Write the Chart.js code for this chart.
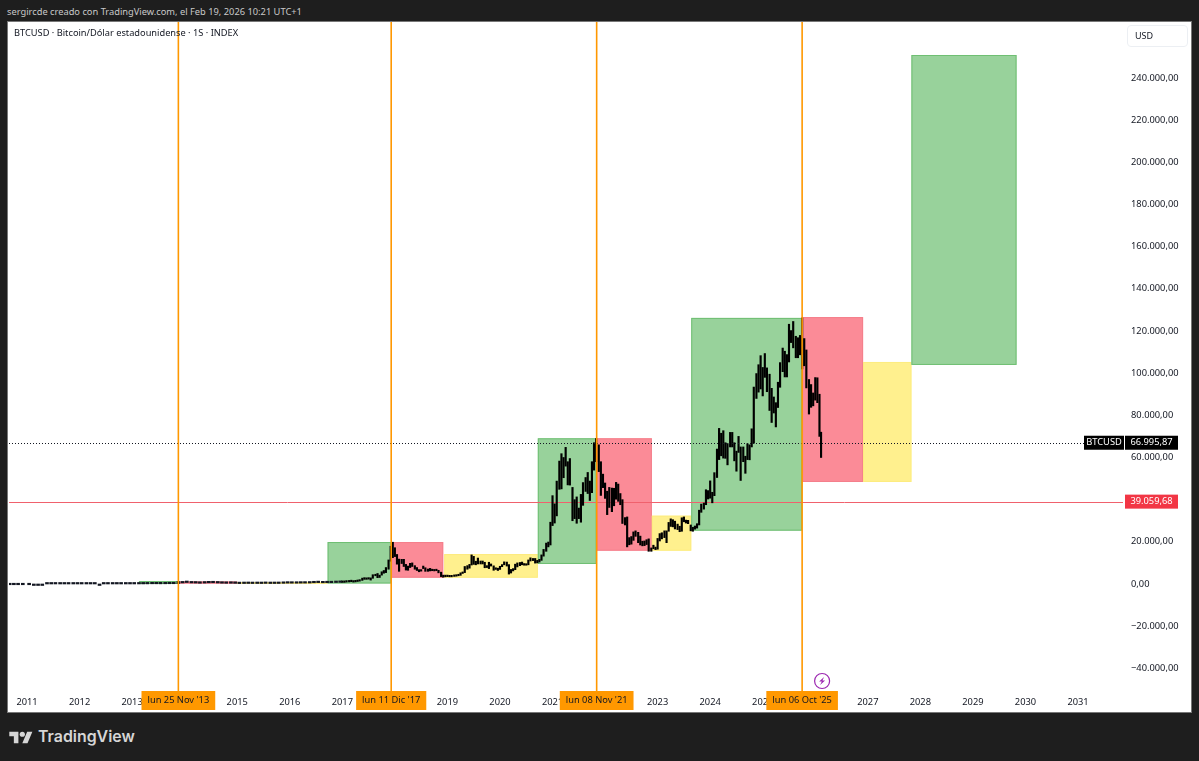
<!DOCTYPE html>
<html lang="es">
<head>
<meta charset="utf-8">
<title>BTCUSD</title>
<script src="https://cdn.jsdelivr.net/npm/chart.js@4"></script>
<style>
  html, body { margin: 0; padding: 0; width: 1199px; height: 761px; overflow: hidden; background: #1e1e1e; font-family: "Noto Sans", sans-serif; }
  #credit { position: absolute; left: 7px; top: 5px; font-size: 9.3px; line-height: 14px; color: #c9c9c9; white-space: nowrap; }
  #panel { position: absolute; left: 8px; top: 22px; width: 1183px; height: 690px; background: #fff; box-shadow: 0 0 0 1px #777; }
  #chart { position: absolute; left: 9px; top: 22px; }
  #title { position: absolute; left: 14px; top: 26px; font-size: 9.25px; line-height: 14px; color: #131722; white-space: nowrap; }
  #usd { position: absolute; left: 1127px; top: 25px; width: 59px; height: 20px; border: 1px solid #eceff3; border-radius: 4px; font-size: 9px; line-height: 20px; color: #131722; text-indent: 7px; box-sizing: content-box; }
  #logo { position: absolute; left: 9px; top: 731px; }
  #brand { position: absolute; left: 38px; top: 726px; font-family: Inter, sans-serif; font-weight: 600; font-size: 15.9px; line-height: 22px; color: #d6d6d6; }
</style>
</head>
<body>
<div id="credit">sergircde creado con TradingView.com, el Feb 19, 2026 10:21 UTC+1</div>
<div id="panel"></div>
<canvas id="chart" width="1182" height="690"></canvas>
<div id="title">BTCUSD · Bitcoin/Dólar estadounidense · 1S · INDEX</div>
<div id="usd">USD</div>
<svg id="logo" width="24" height="13" viewBox="0 3 36 20"><path fill="#d6d6d6" d="M14 22H7V11H0V4h14v18zM28 22h-8l7.5-18h8L28 22z"/><circle fill="#d6d6d6" cx="20" cy="8" r="4"/></svg>
<div id="brand">TradingView</div>

<script>
// === Datos ===
const yearTicks = [2011, 2012, 2013, 2014, 2015, 2016, 2017, 2018, 2019, 2020, 2021, 2022, 2023, 2024, 2025, 2026, 2027, 2028, 2029, 2030, 2031];
const priceTicks = [-40000, -20000, 0, 20000, 40000, 60000, 80000, 100000, 120000, 140000, 160000, 180000, 200000, 220000, 240000];

// fecha en años decimales, mínimo y máximo de cada tramo
const priceDates = [
  2010.67, 2010.75, 2010.83, 2010.92,
  2011.04, 2011.13, 2011.21, 2011.29, 2011.38, 2011.46, 2011.54, 2011.63, 2011.71, 2011.79, 2011.88, 2011.96,
  2012.04, 2012.13, 2012.21, 2012.29, 2012.38, 2012.46, 2012.54, 2012.63, 2012.71, 2012.79, 2012.88, 2012.96,
  2013.04, 2013.13, 2013.21, 2013.29, 2013.38, 2013.46, 2013.54, 2013.63, 2013.71, 2013.79, 2013.88, 2013.96,
  2014.04, 2014.13, 2014.21, 2014.29, 2014.38, 2014.46, 2014.54, 2014.63, 2014.71, 2014.79, 2014.88, 2014.96,
  2015.04, 2015.13, 2015.21, 2015.29, 2015.38, 2015.46, 2015.54, 2015.63, 2015.71, 2015.79, 2015.88, 2015.96,
  2016.04, 2016.13, 2016.21, 2016.29, 2016.38, 2016.46, 2016.54, 2016.63, 2016.71, 2016.79, 2016.88, 2016.96,
  2017.00, 2017.04, 2017.08, 2017.13, 2017.17, 2017.21, 2017.25, 2017.29, 2017.33, 2017.38, 2017.42, 2017.46, 2017.50, 2017.54, 2017.58, 2017.63, 2017.67, 2017.71, 2017.75, 2017.79, 2017.83, 2017.88, 2017.92, 2017.96,
  2018.00, 2018.04, 2018.08, 2018.13, 2018.17, 2018.21, 2018.25, 2018.29, 2018.33, 2018.38, 2018.42, 2018.46, 2018.50, 2018.54, 2018.58, 2018.63, 2018.67, 2018.71, 2018.75, 2018.79, 2018.83, 2018.88, 2018.92, 2018.96,
  2019.00, 2019.04, 2019.08, 2019.13, 2019.17, 2019.21, 2019.25, 2019.29, 2019.33, 2019.38, 2019.42, 2019.46, 2019.50, 2019.54, 2019.58, 2019.63, 2019.67, 2019.71, 2019.75, 2019.79, 2019.83, 2019.88, 2019.92, 2019.96,
  2020.00, 2020.04, 2020.08, 2020.13, 2020.17, 2020.21, 2020.25, 2020.29, 2020.33, 2020.38, 2020.42, 2020.46, 2020.50, 2020.54, 2020.58, 2020.63, 2020.67, 2020.71, 2020.75, 2020.79, 2020.83, 2020.88, 2020.92, 2020.96,
  2021.00, 2021.04, 2021.08, 2021.13, 2021.17, 2021.21, 2021.25, 2021.29, 2021.33, 2021.38, 2021.42, 2021.46, 2021.50, 2021.54, 2021.58, 2021.63, 2021.67, 2021.71, 2021.75, 2021.79, 2021.83, 2021.88, 2021.92, 2021.96,
  2022.00, 2022.04, 2022.08, 2022.13, 2022.17, 2022.21, 2022.25, 2022.29, 2022.33, 2022.38, 2022.42, 2022.46, 2022.50, 2022.54, 2022.58, 2022.63, 2022.67, 2022.71, 2022.75, 2022.79, 2022.83, 2022.88, 2022.92, 2022.96,
  2023.00, 2023.04, 2023.08, 2023.13, 2023.17, 2023.21, 2023.25, 2023.29, 2023.33, 2023.38, 2023.42, 2023.46, 2023.50, 2023.54, 2023.58, 2023.63, 2023.67, 2023.71, 2023.75, 2023.79, 2023.83, 2023.88, 2023.92, 2023.96,
  2024.00, 2024.04, 2024.08, 2024.13, 2024.17, 2024.21, 2024.25, 2024.29, 2024.33, 2024.38, 2024.42, 2024.46, 2024.50, 2024.54, 2024.58, 2024.63, 2024.67, 2024.71, 2024.75, 2024.79, 2024.83, 2024.88, 2024.92, 2024.96,
  2025.00, 2025.04, 2025.08, 2025.13, 2025.17, 2025.21, 2025.25, 2025.29, 2025.33, 2025.38, 2025.42, 2025.46, 2025.50, 2025.54, 2025.58, 2025.63, 2025.67, 2025.71, 2025.75, 2025.79, 2025.83, 2025.88, 2025.92, 2025.96,
  2026.00, 2026.04, 2026.08, 2026.11
];
const priceLow = [
  0, 0, 0, 0,
  0, 1, 1, 1, 3, 6, 12, 7, 4, 2, 2, 3,
  5, 4, 4, 5, 5, 6, 7, 8, 10, 10, 10, 13,
  13, 20, 33, 50, 90, 90, 70, 90, 120, 125, 200, 500,
  700, 500, 450, 350, 440, 550, 580, 480, 370, 320, 350, 300,
  180, 220, 240, 210, 230, 220, 270, 220, 230, 240, 320, 400,
  380, 370, 410, 420, 450, 570, 650, 560, 600, 610, 700, 760,
  750, 760, 900, 980, 1100, 900, 1000, 1180, 1350, 1700, 2200, 2200, 2300, 1850, 2700, 3900, 3000, 3100, 4200, 5100, 5400, 7000, 10800, 12500,
  13000, 9400, 6000, 9700, 8300, 6600, 6500, 7800, 8300, 7000, 6400, 5800, 6100, 7300, 6000, 6000, 6200, 6300, 6200, 6300, 5300, 3500, 3200, 3400,
  3500, 3400, 3400, 3600, 3700, 3900, 4100, 5000, 5400, 7000, 7500, 9000, 9300, 9100, 9500, 9500, 9500, 7700, 7800, 7300, 8500, 6500, 6900, 6400,
  6900, 8200, 9100, 8500, 4700, 5200, 6200, 6800, 8100, 8700, 9100, 8900, 8900, 9100, 10900, 11100, 9900, 10000, 10400, 11200, 13200, 15500, 17600, 18500,
  27700, 28900, 32300, 44900, 45100, 50400, 55900, 47000, 46900, 30000, 31000, 28800, 31000, 29300, 37300, 43900, 42900, 39600, 43300, 54000, 58000, 53300, 42000, 45700,
  40600, 32900, 36300, 34300, 37100, 40200, 39200, 37600, 28700, 28000, 17600, 18600, 18900, 20700, 22600, 19600, 18500, 18100, 18200, 18700, 15500, 15500, 16700, 16300,
  16500, 20400, 21400, 22000, 19600, 25000, 27300, 27100, 26100, 25800, 24800, 25000, 29500, 28900, 28600, 25200, 25000, 26000, 26500, 28000, 34000, 35500, 37600, 40300,
  40700, 38500, 41900, 50500, 59000, 60800, 59700, 59600, 56500, 65000, 65000, 58400, 53500, 62400, 49100, 58000, 52500, 59000, 58900, 65000, 66800, 88000, 91000, 92500,
  89200, 98000, 91200, 82300, 76600, 81100, 74500, 83700, 93300, 100700, 98200, 98200, 105300, 114500, 112000, 107300, 107300, 108700, 102000, 103500, 93000, 80600, 83800, 84500,
  87200, 86000, 70000, 60000
];
const priceHigh = [
  0, 0, 0, 0,
  1, 1, 1, 1, 9, 31, 17, 14, 8, 5, 3, 5,
  7, 6, 5, 6, 5, 7, 9, 15, 12, 13, 13, 14,
  20, 34, 95, 266, 130, 120, 110, 130, 145, 210, 1150, 1150,
  1000, 800, 700, 500, 620, 680, 650, 600, 500, 400, 400, 380,
  300, 260, 290, 250, 240, 260, 300, 280, 240, 310, 500, 460,
  450, 440, 430, 460, 550, 780, 680, 610, 610, 700, 750, 960,
  1150, 1000, 1060, 1200, 1350, 1250, 1220, 1360, 1850, 2790, 3000, 2800, 2950, 2900, 4400, 4500, 4980, 4200, 5800, 6400, 7800, 11400, 17900, 19800,
  17200, 14000, 11800, 11700, 11700, 9300, 8500, 9800, 10000, 8700, 7800, 6800, 6800, 8500, 7700, 7100, 7400, 6800, 6700, 6600, 6500, 5600, 4200, 4200,
  4100, 3800, 3700, 4200, 4050, 4100, 5300, 5600, 8300, 8700, 9300, 13800, 13100, 10800, 12300, 10900, 10900, 10300, 8700, 10300, 9500, 8600, 7700, 7500,
  8400, 9200, 10500, 10400, 9200, 6900, 7300, 9400, 10000, 10200, 10400, 9700, 9400, 11400, 12400, 12100, 12100, 11200, 11700, 13800, 16400, 19400, 19900, 29300,
  41900, 38000, 48800, 58300, 61800, 60000, 64800, 58000, 59500, 45800, 40000, 41300, 36000, 42500, 48100, 50500, 52900, 48800, 58000, 67000, 69000, 66000, 58000, 52100,
  47900, 44000, 45800, 45500, 45400, 48200, 47400, 42900, 40000, 31500, 31800, 22000, 22500, 24700, 25200, 24500, 22700, 20300, 20400, 21000, 21400, 17100, 18400, 17500,
  21600, 23900, 24300, 25200, 25200, 29200, 30900, 30500, 29800, 28400, 27400, 31400, 31800, 30300, 30200, 28000, 26900, 27500, 28600, 35000, 37900, 38400, 44700, 44300,
  48900, 43500, 52800, 64000, 73800, 71500, 72700, 67000, 66600, 71900, 71900, 67000, 63000, 70000, 65000, 65000, 60600, 66500, 66000, 73600, 93400, 99800, 104000, 108300,
  102700, 109300, 102500, 99500, 92800, 88700, 86000, 95700, 105000, 111900, 110400, 108800, 123200, 120200, 124500, 117500, 116800, 117900, 126200, 116400, 111000, 97000, 94600, 90600,
  97900, 97800, 90000, 72000
];

// zonas de color: inicio, fin, mínimo, máximo, tipo
const zoneStart = [2013.13, 2013.88, 2015.00, 2016.72, 2017.93, 2018.94, 2020.72, 2021.84, 2022.89, 2023.64, 2025.75, 2026.91, 2027.83];
const zoneEnd   = [2013.88, 2015.00, 2016.72, 2017.93, 2018.92, 2020.72, 2021.84, 2022.89, 2023.64, 2025.75, 2026.91, 2027.83, 2029.83];
const zoneLow   = [0, 200, 100, 240, 3000, 3000, 9500, 15800, 15800, 25300, 48400, 48400, 103900];
const zoneHigh  = [1420, 1150, 800, 19900, 19900, 14200, 69100, 69100, 32400, 126200, 126600, 105300, 250900];
const zoneKind  = ["g", "r", "y", "g", "r", "y", "g", "r", "y", "g", "r", "y", "g"];

const cycleDates  = [2013.88, 2017.93, 2021.84, 2025.75];
const cycleLabels = ["lun 25 Nov '13", "lun 11 Dic '17", "lun 08 Nov '21", "lun 06 Oct '25"];

const lastPrice = 66995.87;
const levelPrice = 39059.68;
const splitDate = 2026.13;
const denseFrom = 2017; // antes de este año los tramos son mensuales

// === Estilos ===
const FUENTE = '"Noto Sans", sans-serif';
const colores = {
  g: { fill: "#98d29b", line: "#6fbf73" },
  r: { fill: "#fb8b97", line: "#f57f8b" },
  y: { fill: "#fff08e", line: "#fdec80" }
};
const naranja = "#ff9800";

function formatoPrecio(v) {
  const partes = Math.abs(v).toFixed(2).split(".");
  const miles = partes[0].replace(/\B(?=(\d{3})+$)/g, ".");
  return (v < 0 ? "\u2212" : "") + miles + "," + partes[1];
}

function etiqueta(c, x, y, w, h, fondo, color, texto) {
  c.fillStyle = fondo;
  c.fillRect(x, y, w, h);
  c.fillStyle = color;
  c.font = "9.3px " + FUENTE;
  c.textAlign = "center";
  c.textBaseline = "middle";
  c.fillText(texto, x + w / 2, y + h / 2);
}

const dibujos = {
  id: "dibujos",
  beforeDatasetsDraw(chart) {
    const c = chart.ctx, xs = chart.scales.x, ys = chart.scales.y, area = chart.chartArea;
    c.save();
    // zonas
    zoneStart.forEach((ini, i) => {
      const x0 = xs.getPixelForValue(ini), x1 = xs.getPixelForValue(zoneEnd[i]);
      const y0 = ys.getPixelForValue(zoneHigh[i]), y1 = ys.getPixelForValue(zoneLow[i]);
      const col = colores[zoneKind[i]];
      c.fillStyle = col.fill;
      c.fillRect(x0, y0, x1 - x0, y1 - y0);
      c.strokeStyle = col.line;
      c.lineWidth = 1;
      c.strokeRect(x0 + 0.5, y0 + 0.5, x1 - x0 - 1, y1 - y0 - 1);
    });
    // linea roja de nivel
    const yNivel = Math.round(ys.getPixelForValue(levelPrice)) + 0.5;
    c.strokeStyle = "#f0616d";
    c.lineWidth = 1;
    c.beginPath();
    c.moveTo(area.left, yNivel);
    c.lineTo(area.right, yNivel);
    c.stroke();
    c.restore();
  },
  afterDatasetsDraw(chart) {
    const c = chart.ctx, ys = chart.scales.y, area = chart.chartArea;
    c.save();
    // linea punteada del ultimo precio
    const yPrecio = Math.round(ys.getPixelForValue(lastPrice)) + 0.5;
    c.strokeStyle = "#131722";
    c.lineWidth = 1;
    c.setLineDash([1, 2]);
    c.beginPath();
    c.moveTo(area.left, yPrecio);
    c.lineTo(1075, yPrecio);
    c.stroke();
    c.setLineDash([]);
    c.restore();
  },
  afterDraw(chart) {
    const c = chart.ctx, xs = chart.scales.x, ys = chart.scales.y, area = chart.chartArea;
    c.save();
    // lineas verticales y fechas
    cycleDates.forEach((d, i) => {
      const x = xs.getPixelForValue(d);
      c.strokeStyle = naranja;
      c.lineWidth = 1.6;
      c.beginPath();
      c.moveTo(x, 0);
      c.lineTo(x, area.bottom + 1);
      c.stroke();
      c.font = "9.3px " + FUENTE;
      const ancho = c.measureText(cycleLabels[i]).width + 12;
      etiqueta(c, x - ancho / 2, area.bottom + 1, ancho, 19, naranja, "#131722", cycleLabels[i]);
    });
    // etiquetas de precio
    const yP = ys.getPixelForValue(lastPrice);
    etiqueta(c, 1075, yP - 7, 40, 14, "#000", "#fff", "BTCUSD");
    etiqueta(c, 1116, yP - 7, 53, 14, "#000", "#fff", formatoPrecio(lastPrice));
    const yN = ys.getPixelForValue(levelPrice);
    etiqueta(c, 1116, yN - 7, 53, 14, "#f23645", "#fff", formatoPrecio(levelPrice));
    // icono del rayo
    const xR = xs.getPixelForValue(splitDate), yR = area.bottom - 9;
    c.strokeStyle = "#9c27b0";
    c.lineWidth = 1.2;
    c.beginPath();
    c.arc(xR, yR, 7.5, 0, Math.PI * 2);
    c.stroke();
    c.fillStyle = "#9c27b0";
    c.beginPath();
    c.moveTo(xR + 2, yR - 4);
    c.lineTo(xR - 3, yR + 0.5);
    c.lineTo(xR - 0.3, yR + 0.5);
    c.lineTo(xR - 2, yR + 4);
    c.lineTo(xR + 3, yR - 0.5);
    c.lineTo(xR + 0.3, yR - 0.5);
    c.closePath();
    c.fill();
    c.restore();
  }
};

const puntos = priceDates.map((d, i) => ({ x: d, y: [priceLow[i], priceHigh[i]] }));

// === Grafico ===
new Chart(document.getElementById("chart").getContext("2d"), {
  type: "bar",
  data: {
    datasets: [{
      label: "BTCUSD",
      data: puntos.filter(p => p.x < denseFrom),
      backgroundColor: "#131722",
      borderWidth: 0,
      barThickness: 3,
      minBarLength: 1.5,
      grouped: false
    }, {
      label: "BTCUSD",
      data: puntos.filter(p => p.x >= denseFrom),
      backgroundColor: "#000",
      borderWidth: 0,
      barThickness: 1.5,
      minBarLength: 1.5,
      grouped: false
    }]
  },
  options: {
    responsive: false,
    animation: false,
    layout: { padding: 0 },
    plugins: { legend: { display: false }, tooltip: { enabled: false } },
    scales: {
      x: {
        type: "linear",
        offset: false,
        min: 2010.657,
        max: 2031.856,
        grid: { display: false, drawTicks: false },
        border: { display: false },
        afterBuildTicks: s => { s.ticks = yearTicks.map(v => ({ value: v })); },
        afterFit: s => { s.height = 22; s.paddingLeft = 0; s.paddingRight = 0; },
        ticks: {
          autoSkip: false,
          maxRotation: 0,
          padding: 6.5,
          color: "#131722",
          font: { family: FUENTE, size: 9.3 },
          callback: v => String(v)
        }
      },
      y: {
        type: "linear",
        position: "right",
        min: -50280,
        max: 266550,
        grid: { display: false, drawTicks: false },
        border: { display: false },
        afterBuildTicks: s => { s.ticks = priceTicks.map(v => ({ value: v })); },
        afterFit: s => { s.width = 68; s.paddingTop = 0; s.paddingBottom = 0; },
        ticks: {
          padding: 8,
          crossAlign: "near",
          color: "#131722",
          font: { family: FUENTE, size: 9.3 },
          callback: v => formatoPrecio(v)
        }
      }
    }
  },
  plugins: [dibujos]
});
</script>
</body>
</html>
